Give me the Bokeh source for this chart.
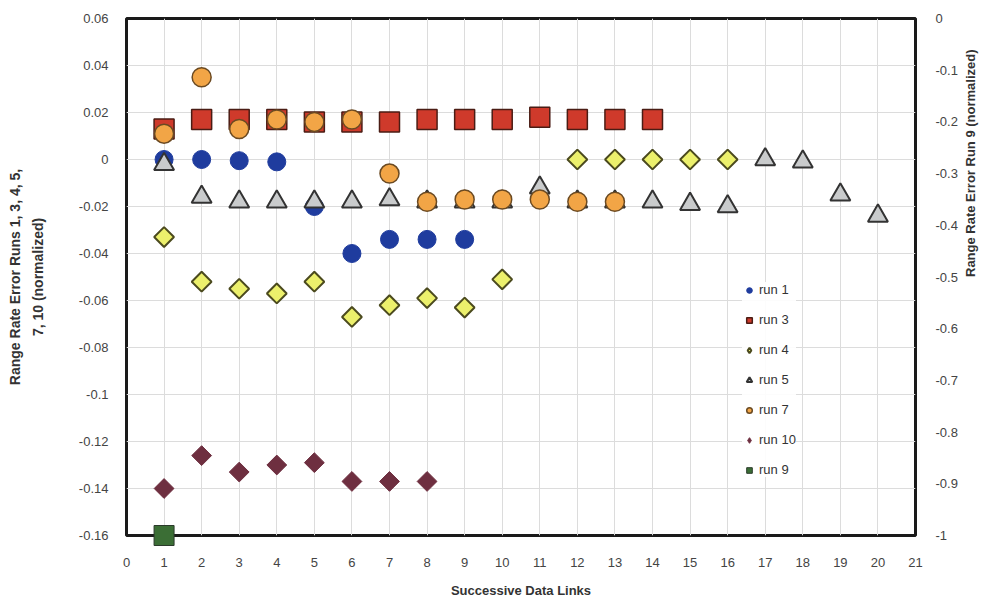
import math
from bokeh.plotting import figure
from bokeh.models import (Range1d, LinearAxis, FixedTicker, CustomJSTickFormatter,
                          Legend, LegendItem, Title)
from bokeh.embed import file_html
from bokeh.resources import INLINE

# ---- data ----
run1_x = [1, 2, 3, 4, 5, 6, 7, 8, 9]
run1_y = [0.0, 0.0, -0.0005, -0.001, -0.020, -0.040, -0.034, -0.034, -0.034]

run3_x = [1, 2, 3, 4, 5, 6, 7, 8, 9, 10, 11, 12, 13, 14]
run3_y = [0.013, 0.017, 0.017, 0.017, 0.016, 0.016, 0.016, 0.017, 0.017, 0.017,
          0.018, 0.017, 0.017, 0.017]

run4_x = [1, 2, 3, 4, 5, 6, 7, 8, 9, 10, 12, 13, 14, 15, 16]
run4_y = [-0.033, -0.052, -0.055, -0.057, -0.052, -0.067, -0.062, -0.059, -0.063,
          -0.051, 0.0, 0.0, 0.0, 0.0, 0.0]

run5_x = [1, 2, 3, 4, 5, 6, 7, 8, 9, 10, 11, 12, 13, 14, 15, 16, 17, 18, 19, 20]
run5_y = [-0.002, -0.016, -0.018, -0.018, -0.018, -0.018, -0.017, -0.018, -0.018,
          -0.018, -0.012, -0.018, -0.018, -0.018, -0.019, -0.020, 0.0, -0.001,
          -0.015, -0.024]

run7_x = [1, 2, 3, 4, 5, 6, 7, 8, 9, 10, 11, 12, 13]
run7_y = [0.011, 0.035, 0.013, 0.017, 0.016, 0.017, -0.006, -0.018, -0.017, -0.017,
          -0.017, -0.018, -0.018]

run10_x = [1, 2, 3, 4, 5, 6, 7, 8]
run10_y = [-0.140, -0.126, -0.133, -0.130, -0.129, -0.137, -0.137, -0.137]

run9_x = [1]
run9_y = [-1.0]

x_ticks = list(range(0, 22))
left_ticks = [0.06, 0.04, 0.02, 0.0, -0.02, -0.04, -0.06, -0.08, -0.1, -0.12, -0.14, -0.16]
right_ticks = [0.0, -0.1, -0.2, -0.3, -0.4, -0.5, -0.6, -0.7, -0.8, -0.9, -1.0]

FONT = "Liberation Sans"

p = figure(width=990, height=600, output_backend="svg", toolbar_location=None,
           x_range=Range1d(0, 21), y_range=Range1d(-0.16, 0.06),
           min_border_left=126, min_border_right=75, min_border_top=18,
           min_border_bottom=65)
p.extra_y_ranges = {"run9": Range1d(-1, 0)}

p.outline_line_color = "#1a1a1a"
p.outline_line_width = 3

fmt = CustomJSTickFormatter(code="return Number(tick.toFixed(2)).toString();")

xax = p.xaxis[0]
lax = p.yaxis[0]
xax.ticker = FixedTicker(ticks=x_ticks)
lax.ticker = FixedTicker(ticks=left_ticks)
xax.formatter = fmt
lax.formatter = fmt

rax = LinearAxis(y_range_name="run9", ticker=FixedTicker(ticks=right_ticks),
                 formatter=fmt)
p.add_layout(rax, "right")

for ax in [xax, lax, rax]:
    ax.axis_line_color = None
    ax.major_tick_line_color = None
    ax.minor_tick_line_color = None
    ax.major_label_text_font = FONT
    ax.major_label_text_font_size = "13px"
    ax.major_label_text_color = "#444444"
    ax.axis_label_text_font = FONT
    ax.axis_label_text_font_size = "13px"
    ax.axis_label_text_font_style = "bold"
    ax.axis_label_text_color = "#333333"

xax.axis_label = "Successive Data Links"
xax.major_label_standoff = 16
xax.axis_label_standoff = 13
lax.axis_label = "Range Rate Error Runs 1, 3, 4, 5,\n7, 10 (normalized)"
lax.axis_label_text_font_size = "14px"
lax.axis_label_text_line_height = 1.4
lax.major_label_standoff = 12
lax.axis_label_standoff = 30
rax.major_label_standoff = 14

RIGHT_LABEL = "Range Rate Error Run 9  (normalized)"
if "axis_label_orientation" in rax.properties():
    rax.axis_label = RIGHT_LABEL
    rax.axis_label_orientation = math.pi / 2
    rax.axis_label_standoff = 10
else:
    t = Title(text=RIGHT_LABEL, align="center", text_font=FONT,
              text_font_size="13px", text_font_style="bold", text_color="#333333")
    p.add_layout(t, "right")

p.xgrid.ticker = FixedTicker(ticks=x_ticks)
p.ygrid.ticker = FixedTicker(ticks=left_ticks)
p.xgrid.grid_line_color = "#dcdcdc"
p.ygrid.grid_line_color = "#dcdcdc"

C4 = dict(fill_color="#ecf06c", line_color="#4b4a1e", line_width=2)
C10 = dict(fill_color="#6e2f40", line_color="#6e2f40")

r1 = p.scatter(run1_x, run1_y, marker="circle", size=18, fill_color="#1f3c9e",
               line_color="#1f3c9e")
r3 = p.scatter(run3_x, run3_y, marker="square", size=20, fill_color="#cf3a2b",
               line_color="#4a1c14", line_width=1.5)
r4 = p.scatter(run4_x, run4_y, marker="square", angle=math.pi / 4, size=14, **C4)
r5 = p.scatter(run5_x, run5_y, marker="triangle", size=20, fill_color="#c9cbcc",
               line_color="#333333", line_width=2)
r7 = p.scatter(run7_x, run7_y, marker="circle", size=19, fill_color="#f2a546",
               line_color="#6b4a22", line_width=1.5)
r10 = p.scatter(run10_x, run10_y, marker="square", angle=math.pi / 4, size=14, **C10)
r9 = p.scatter(run9_x, run9_y, marker="square", size=20, fill_color="#3b6e35",
               line_color="#2b3a2b", y_range_name="run9", level="overlay")

# hidden twins so the legend shows diamond glyphs for runs 4 and 10
l4 = p.scatter(run4_x, run4_y, marker="diamond", size=14, visible=False, **C4)
l10 = p.scatter(run10_x, run10_y, marker="diamond", size=14, visible=False, **C10)

legend = Legend(items=[
    LegendItem(label="run 1", renderers=[r1]),
    LegendItem(label="run 3", renderers=[r3]),
    LegendItem(label="run 4", renderers=[l4]),
    LegendItem(label="run 5", renderers=[r5]),
    LegendItem(label="run 7", renderers=[r7]),
    LegendItem(label="run 10", renderers=[l10]),
    LegendItem(label="run 9", renderers=[r9]),
], location=(616, 58))
legend.label_text_font = FONT
legend.label_text_font_size = "13px"
legend.label_text_color = "#333333"
legend.glyph_width = 14
legend.glyph_height = 14
legend.label_height = 14
legend.spacing = 15
legend.padding = 8
legend.label_standoff = 3
legend.inactive_fill_alpha = 0.0
legend.border_line_color = None
legend.background_fill_color = "white"
legend.background_fill_alpha = 0.9
p.add_layout(legend, "center")

open("out.html", "w").write(file_html(p, INLINE))
